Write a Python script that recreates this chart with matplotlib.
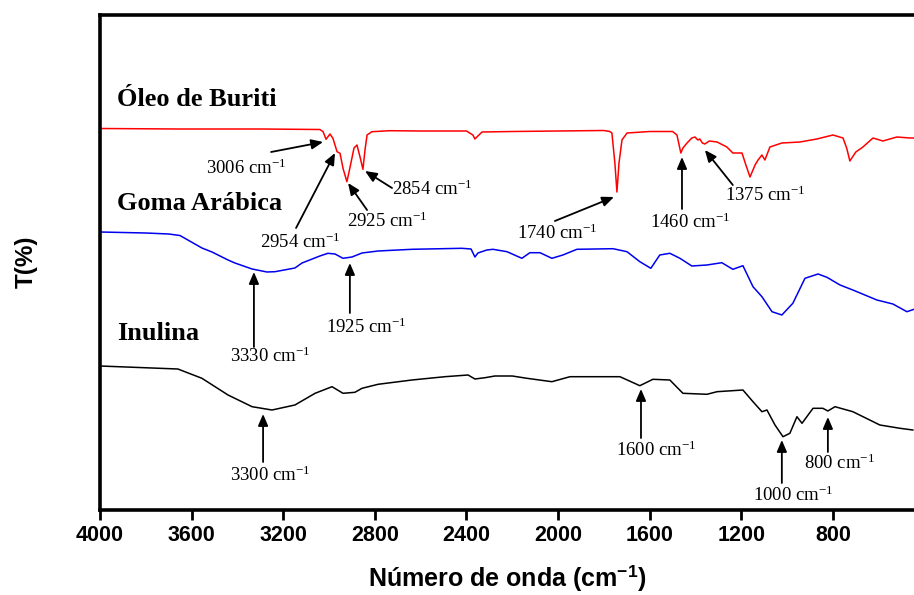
import matplotlib
matplotlib.use("Agg")
import matplotlib.pyplot as plt

plt.rcParams['mathtext.fontset'] = 'custom'
plt.rcParams['mathtext.rm'] = 'Liberation Serif'
plt.rcParams['mathtext.it'] = 'Liberation Serif:italic'
plt.rcParams['mathtext.bf'] = 'Liberation Serif:bold'
plt.rcParams['mathtext.sf'] = 'Liberation Sans:bold'

# ---- data (wavenumber cm-1, transmittance offset in arbitrary units) ----
oleo_wn = [4000, 3660, 3300, 3040, 3026, 3013, 2996, 2983, 2965, 2952, 2939, 2922, 2909, 2891,
           2878, 2865, 2852, 2843, 2834, 2813, 2734, 2600, 2400, 2372, 2363, 2350, 2332, 2200,
           2000, 1800, 1774, 1765, 1752, 1743, 1734, 1721, 1699, 1600, 1500, 1481, 1464, 1455,
           1437, 1416, 1402, 1390, 1381, 1370, 1359, 1340, 1306, 1263, 1237, 1197, 1180, 1162,
           1140, 1127, 1110, 1097, 1075, 1023, 944, 870, 800, 756, 740, 726, 700, 669, 625, 582,
           521, 464, 446]
oleo_t = [381.5, 381, 381, 380.5, 378.3, 370.7, 376, 371.7, 358.3, 356.7, 341.7, 328.3, 342, 362,
          365, 353.3, 340.7, 360, 375, 378.3, 379.3, 379, 379, 375, 371, 374, 378, 378.5,
          379, 379.5, 378.5, 377, 347, 318, 347, 370, 377, 378.5, 378.5, 375, 357, 362,
          367, 372, 373, 370, 371, 367, 366, 369, 368, 363, 357, 357, 345, 333,
          345, 350, 355, 350, 363, 367, 368, 371, 375, 372, 362, 349, 358, 363, 372, 369,
          373, 372, 372]

goma_wn = [4000, 3900, 3800, 3700, 3651, 3555, 3511, 3441, 3411, 3336, 3271, 3236, 3149, 3118,
           3040, 3005, 2974, 2939, 2900, 2856, 2786, 2638, 2420, 2380, 2363, 2350, 2311, 2284,
           2223, 2158, 2123, 2079, 2027, 1979, 1918, 1760, 1699, 1643, 1595, 1556, 1512, 1468,
           1416, 1350, 1285, 1237, 1193, 1149, 1110, 1066, 1023, 975, 922, 865, 826, 769, 713,
           608, 538, 477, 446]
goma_t = [278, 277.5, 277, 276, 274.5, 262, 258, 250, 247, 241, 238, 238.3, 242, 247,
          254, 256.7, 256, 251.7, 253, 257, 259, 260.7, 261.7, 261, 253, 257, 260, 260.7,
          258.3, 251.7, 257.3, 257.3, 251.7, 255, 260.7, 261.3, 258.3, 248.3, 241.7, 255, 256.7, 251.7,
          244, 245, 247.3, 240.7, 244.3, 223.3, 213.3, 198.3, 195, 206.7, 231.7, 236, 232.7, 225, 220,
          210, 206, 198.3, 200.7]

inulina_wn = [4000, 3660, 3555, 3441, 3336, 3249, 3149, 3061, 2987, 2939, 2887, 2856, 2786, 2638,
              2494, 2393, 2363, 2319, 2276, 2200, 2136, 2027, 1948, 1730, 1643, 1586, 1512, 1455,
              1350, 1306, 1193, 1149, 1110, 1088, 1053, 1018, 988, 957, 935, 887, 844, 822, 791,
              713, 595, 507, 451]
inulina_t = [144, 141, 131.7, 115, 103.3, 100, 105, 116.7, 123.3, 116.7, 117.7, 121.7, 125.7, 130,
             133.3, 135, 131, 132.3, 134, 134, 131.7, 128.3, 133.3, 133.3, 124.3, 130.7, 130, 116.7,
             115.7, 118.3, 120, 108.3, 98.3, 100, 85, 73.3, 76.7, 93.3, 86.7, 101.7, 101.7, 99, 103.3,
             98.3, 85, 81.7, 80]

series_names = ["Óleo de Buriti", "Goma Arábica", "Inulina"]
x_ticks = [4000, 3600, 3200, 2800, 2400, 2000, 1600, 1200, 800]

# annotations: label, tail (wn, t), tip (wn, t), text centre (wn, t)
annotations = [
    ("3006", (3253, 358), (3026, 368), (3363, 342)),
    ("2954", (3144, 282), (2974, 357), (3127, 268)),
    ("2925", (2834, 300), (2917, 327), (2747, 289)),
    ("2854", (2725, 322), (2843, 339), (2551, 321)),
    ("1740", (2014, 289), (1756, 313), (2005, 277)),
    ("1460", (1459, 301), (1459, 353), (1424, 288)),
    ("1375", (1237, 325), (1359, 360), (1097, 315)),
    ("3330", (3328, 163), (3328, 238), (3258, 154)),
    ("1925", (2909, 197), (2909, 247), (2839, 183)),
    ("3300", (3288, 48), (3288, 96), (3258, 35)),
    ("1600", (1638, 72), (1638, 121), (1573, 60)),
    ("1000", (1023, 27), (1023, 70), (975, 15)),
    ("800", (822, 58), (822, 93), (769, 47)),
]

fig = plt.figure(figsize=(9.14, 5.95), dpi=100)
ax = fig.add_axes([100/914, 85/595, 1 - 100/914, 495/595])

ax.plot(oleo_wn, oleo_t, color='#ff0000', lw=1.1)
ax.plot(goma_wn, goma_t, color='#0000ee', lw=1.1)
ax.plot(inulina_wn, inulina_t, color='#000000', lw=1.1)

ax.set_xlim(4000, 446)
ax.set_ylim(0, 495)
ax.set_yticks([])
ax.set_xticks(x_ticks)
ax.set_xticklabels([str(t) for t in x_ticks], fontfamily='Liberation Sans',
                   fontweight='bold', fontsize=15.5)
ax.tick_params(axis='x', direction='out', length=7, width=2, pad=4)

for side in ['left', 'top', 'bottom']:
    ax.spines[side].set_linewidth(2.6)
ax.spines['right'].set_visible(False)

ax.set_xlabel(r"Número de onda (cm$^{\mathsf{-1}}$)", fontfamily='Liberation Sans',
              fontweight='bold', fontsize=18, labelpad=12)
fig.text(26/914, 1 - 262/595, "T(%)", rotation=90, ha='center', va='center',
         fontfamily='Liberation Sans', fontweight='bold', fontsize=17.5)

label_y = [410, 306, 177]
for name, yv in zip(series_names, label_y):
    t = ax.text(3926, yv, name, ha='left', va='center', fontfamily='Liberation Serif',
                fontweight='bold', fontsize=19)

for lab, tail, tip, tpos in annotations:
    ax.annotate('', xy=tip, xytext=tail,
                arrowprops=dict(arrowstyle='-|>,head_length=0.7,head_width=0.3',
                                color='black', lw=1.3, shrinkA=0, shrinkB=0))
    ax.text(tpos[0], tpos[1], lab + r" cm$^{\mathrm{-1}}$", ha='center', va='center',
            fontfamily='Liberation Serif', fontsize=13.5)

fig.savefig("out.png", dpi=100, facecolor='white')
